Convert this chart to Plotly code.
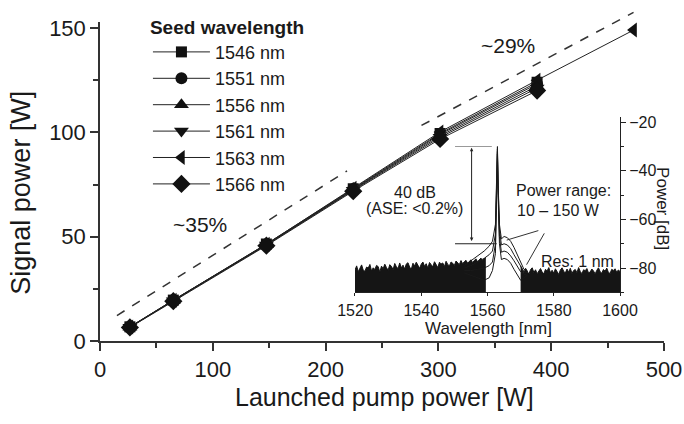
import plotly.graph_objects as go

# ---- main data: signal power vs launched pump power ----
pump_w = [26.5, 65, 147.5, 224.5, 301.5, 387.5]
pump_w_1563 = [26.5, 65, 147.5, 224.5, 301.5, 387.5, 473]

seed_labels = ["1546 nm", "1551 nm", "1556 nm", "1561 nm", "1563 nm", "1566 nm"]
seed_symbols = ["square", "circle", "triangle-up", "triangle-down", "triangle-left", "diamond"]
seed_sizes = [11, 12, 13, 13, 13, 14]

signal_1546 = [6.8, 19.6, 46.5, 73.0, 99.5, 124.0]
signal_1551 = [6.7, 19.5, 46.3, 72.8, 99.0, 123.2]
signal_1556 = [6.6, 19.4, 46.1, 72.5, 98.3, 122.2]
signal_1561 = [6.6, 19.3, 46.0, 72.2, 97.6, 121.2]
signal_1563 = [6.7, 19.5, 46.4, 73.2, 100.2, 125.0, 149.0]
signal_1566 = [6.5, 19.1, 45.7, 71.8, 96.8, 120.0]

# slope-efficiency guide lines
eff35_x = [15, 219]
eff35_y = [12.2, 81.5]
eff29_x = [285, 473]
eff29_y = [103.3, 157.5]

# ---- inset data: output spectra ----
noise_left_wl = [1520 + 0.5 * i for i in range(80)]
noise_left_db = [-80.8, -79.1, -81.5, -80.2, -78.7, -80.9, -81.3, -79.6, -80.0, -78.5,
                 -81.2, -79.9, -80.6, -78.9, -79.4, -81.7, -79.2, -80.3, -78.4, -79.8,
                 -80.9, -78.6, -79.3, -80.7, -78.1, -79.5, -80.2, -77.9, -79.9, -78.8,
                 -80.4, -78.3, -77.8, -79.6, -80.5, -78.0, -79.1, -77.6, -78.9, -80.1,
                 -78.4, -77.5, -79.3, -78.2, -80.0, -77.7, -78.6, -79.5, -77.4, -78.9,
                 -79.8, -77.6, -78.3, -77.9, -79.4, -77.2, -78.5, -79.1, -77.5, -78.0,
                 -78.9, -77.1, -77.8, -78.6, -76.9, -78.2, -77.4, -76.8, -78.0, -77.3,
                 -76.6, -77.7, -76.9, -76.2, -77.4, -76.5, -75.9, -76.8, -76.1, -75.6]
noise_right_wl = [1570 + 0.5 * i for i in range(61)]
noise_right_db = [-79.2, -80.8, -81.9, -80.1, -81.4, -82.5, -80.6, -79.9, -81.8, -80.7,
                  -82.3, -81.1, -80.2, -81.6, -82.4, -80.5, -81.2, -79.8, -81.9, -80.9,
                  -82.1, -80.3, -81.5, -82.6, -80.8, -79.9, -81.3, -82.0, -80.4, -81.7,
                  -80.1, -82.2, -81.0, -80.6, -81.9, -79.8, -81.4, -82.3, -80.7, -81.1,
                  -80.2, -82.0, -81.6, -80.4, -81.2, -82.4, -80.9, -79.9, -81.5, -82.1,
                  -80.6, -81.3, -80.0, -81.8, -82.2, -80.5, -81.0, -80.3, -81.7, -80.8,
                  -81.4]

spec_wl = [1553, 1555, 1557, 1559, 1560.5, 1561.5, 1562.4, 1562.8, 1563.0, 1563.2,
           1563.6, 1564.2, 1565, 1566, 1567, 1568, 1569, 1570, 1571, 1572]
spec_150w = [-79, -77, -75, -73, -71, -69, -62, -45, -30, -45,
             -62, -68, -67, -67.5, -69, -71.5, -74.5, -78, -80.5, -81]
spec_100w = [-80, -79, -77.5, -76, -74.5, -73, -66, -46, -31, -46,
             -64, -70.5, -70, -70.5, -72, -74.5, -77, -79.5, -81.5, -82]
spec_50w = [-81, -81, -80.5, -80, -79, -77.5, -70, -48, -32, -48,
            -67, -73.5, -73, -73.5, -75, -77, -79.5, -81.5, -82.5, -83]
spec_10w = [-82, -83, -84, -85, -84, -81, -74, -50, -33, -50,
            -70, -76.5, -76, -76.5, -78, -80.5, -83, -85, -84, -83]

inset_wl_range = [1520, 1600]
inset_db_range = [-90, -18]

# 40 dB marker geometry (wavelength nm, power dB)
osnr_x = 1555.2
osnr_top, osnr_bottom = -30.0, -70.0

FONT = "Liberation Sans, Arial, sans-serif"
INK = "#1a1a1a"

fig = go.Figure()

all_signals = [signal_1546, signal_1551, signal_1556, signal_1561, signal_1563, signal_1566]
for label, sym, size, sig in zip(seed_labels, seed_symbols, seed_sizes, all_signals):
    xs = pump_w_1563 if label == "1563 nm" else pump_w
    fig.add_trace(go.Scatter(
        x=xs, y=sig, name=label, mode="lines+markers",
        line=dict(color="#222222", width=1),
        marker=dict(symbol=sym, size=size, color="#111111"),
        xaxis="x", yaxis="y",
    ))

for ex, ey in [(eff35_x, eff35_y), (eff29_x, eff29_y)]:
    fig.add_trace(go.Scatter(
        x=ex, y=ey, mode="lines", showlegend=False,
        line=dict(color="#333333", width=1.5, dash="dash"),
        xaxis="x", yaxis="y3",
    ))

# inset: noise floor (filled) and spectra around the signal
for wl, db in [(noise_left_wl, noise_left_db), (noise_right_wl, noise_right_db)]:
    fig.add_trace(go.Scatter(
        x=[wl[0], wl[-1]], y=[inset_db_range[0]] * 2, mode="lines",
        line=dict(width=0, color="black"), showlegend=False,
        xaxis="x2", yaxis="y2",
    ))
    fig.add_trace(go.Scatter(
        x=wl, y=db, mode="lines", fill="tonexty", fillcolor="#151515",
        line=dict(width=1, color="#151515"), showlegend=False,
        xaxis="x2", yaxis="y2",
    ))

for spec in [spec_10w, spec_50w, spec_100w, spec_150w]:
    fig.add_trace(go.Scatter(
        x=spec_wl, y=spec, mode="lines",
        line=dict(width=1, color="#1a1a1a"), showlegend=False,
        xaxis="x2", yaxis="y2",
    ))

main_h = 325 / 339

fig.update_layout(
    width=684, height=424,
    margin=dict(l=100, r=20, t=2, b=83),
    paper_bgcolor="white", plot_bgcolor="rgba(0,0,0,0)",
    font=dict(family=FONT, color=INK),
    xaxis=dict(
        range=[0, 500], dtick=100, domain=[0, 1], anchor="y",
        showgrid=False, zeroline=False, showline=True, linecolor="#333", linewidth=1.5,
        ticks="outside", ticklen=8, tickwidth=1.5, tickcolor="#333",
        minor=dict(dtick=50, ticks="outside", ticklen=5, tickwidth=1.5, tickcolor="#333"),
        tickfont=dict(size=22, family=FONT, color=INK),
    ),
    yaxis=dict(
        range=[0, 153], dtick=50, domain=[0, main_h], anchor="x",
        showgrid=False, zeroline=False, showline=True, linecolor="#333", linewidth=1.5,
        ticks="outside", ticklen=8, tickwidth=1.5, tickcolor="#333",
        minor=dict(dtick=25, ticks="outside", ticklen=5, tickwidth=1.5, tickcolor="#333"),
        tickfont=dict(size=22, family=FONT, color=INK),
    ),
    yaxis3=dict(range=[0, 153 / main_h], domain=[0, 1], anchor="x", visible=False),
    xaxis2=dict(
        range=inset_wl_range, dtick=20, domain=[0.4521, 0.922], anchor="y2",
        showgrid=False, zeroline=False, showline=True, linecolor="#222", linewidth=1,
        ticks="outside", ticklen=3, tickcolor="#222",
        tickfont=dict(size=16, family=FONT, color=INK),
    ),
    yaxis2=dict(
        range=inset_db_range, tickvals=[-20, -40, -60, -80], domain=[0.146, 0.6717],
        anchor="x2", side="right",
        showgrid=False, zeroline=False, showline=True, linecolor="#222", linewidth=1,
        ticks="outside", ticklen=5, tickcolor="#222",
        minor=dict(dtick=10, ticks="outside", ticklen=3, tickcolor="#222"),
        tickfont=dict(size=16, family=FONT, color=INK),
    ),
    legend=dict(
        title=dict(text="<b>Seed wavelength</b>", font=dict(size=19, family=FONT, color=INK)),
        font=dict(size=18, family=FONT, color=INK),
        x=0.085, y=0.997, xanchor="left", yanchor="top", traceorder="normal",
        bgcolor="rgba(0,0,0,0)", itemwidth=57, tracegroupgap=0,
    ),
    showlegend=True,
)

annotations = [
    dict(text="Launched pump power [W]", xref="paper", yref="paper", x=0.5044, y=-0.168,
         showarrow=False, font=dict(size=25), xanchor="center", yanchor="middle"),
    dict(text="Signal power [W]", xref="paper", yref="paper", x=-0.140, y=0.4454,
         showarrow=False, font=dict(size=27), textangle=-90, xanchor="center", yanchor="middle"),
    dict(text="~35%", xref="x", yref="y", x=88.5, y=55.6, showarrow=False, font=dict(size=21)),
    dict(text="~29%", xref="x", yref="y", x=362, y=141.7, showarrow=False, font=dict(size=21)),
    dict(text="Wavelength [nm]", xref="x2", yref="paper", x=1560.3, y=0.0383,
         showarrow=False, font=dict(size=17), xanchor="center", yanchor="middle"),
    dict(text="Power [dB]", xref="paper", yref="y2", x=0.9985, y=-55.4,
         showarrow=False, font=dict(size=17), textangle=90, xanchor="center", yanchor="middle"),
    dict(text="40 dB", xref="x2", yref="y2", x=1538, y=-49, showarrow=False, font=dict(size=16)),
    dict(text="(ASE: <0.2%)", xref="x2", yref="y2", x=1538, y=-55.7, showarrow=False, font=dict(size=16)),
    dict(text="Power range:", xref="x2", yref="y2", x=1583, y=-48.3, showarrow=False, font=dict(size=16)),
    dict(text="10 – 150 W", xref="x2", yref="y2", x=1581.3, y=-56.4, showarrow=False, font=dict(size=16)),
    dict(text="Res: 1 nm", xref="x2", yref="y2", x=1587.3, y=-77.3, showarrow=False, font=dict(size=16)),
    # double-headed 40 dB arrow
    dict(text="", xref="x2", yref="y2", axref="x2", ayref="y2",
         x=osnr_x, y=osnr_top - 0.5, ax=osnr_x, ay=osnr_bottom + 0.5,
         showarrow=True, arrowhead=2, startarrowhead=2, arrowside="end+start",
         arrowsize=0.7, arrowwidth=1, arrowcolor="#222"),
    # pointers from the power-range label to the spectra
    dict(text="", xref="x2", yref="y2", axref="x2", ayref="y2",
         x=1565.8, y=-68.5, ax=1575.8, ay=-64.4, showarrow=True, arrowhead=0,
         arrowwidth=1, arrowcolor="#333"),
    dict(text="", xref="x2", yref="y2", axref="x2", ayref="y2",
         x=1571.8, y=-78.6, ax=1577.4, ay=-65.1, showarrow=True, arrowhead=0,
         arrowwidth=1, arrowcolor="#333"),
]
fig.update_layout(annotations=annotations)

fig.add_shape(type="line", xref="x2", yref="y2", x0=1550.2, x1=1561.3, y0=osnr_top, y1=osnr_top,
              line=dict(color="#999999", width=1))
fig.add_shape(type="line", xref="x2", yref="y2", x0=1550.2, x1=1562.8, y0=osnr_bottom, y1=osnr_bottom,
              line=dict(color="#222222", width=1))

fig.write_html("out.html")
